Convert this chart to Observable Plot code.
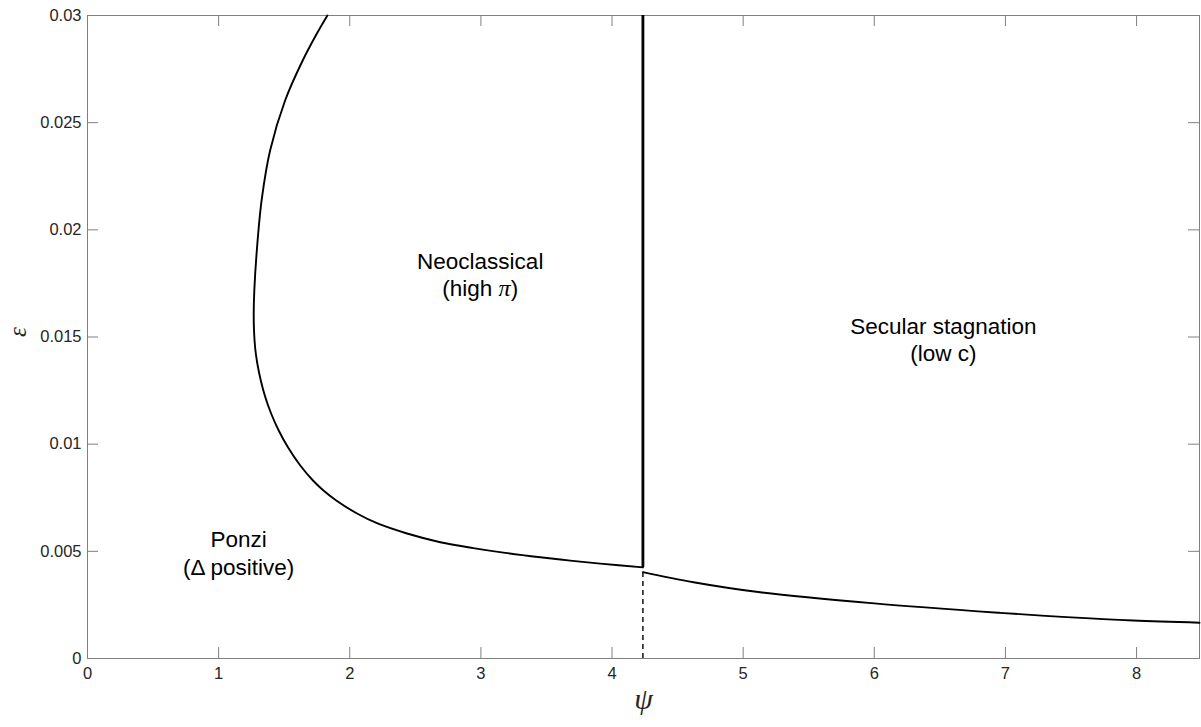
<!DOCTYPE html>
<html><head><meta charset="utf-8">
<script src="https://cdn.jsdelivr.net/npm/d3@7"></script>
<script src="https://cdn.jsdelivr.net/npm/@observablehq/plot@0.6"></script>
<style>
body{margin:0;background:#fff}
svg{font-family:"Liberation Sans",Arial,sans-serif}
</style>
</head><body><div id="chart"></div><script>
// Left boundary (Ponzi / Neoclassical)
const leftPsi = [1.8293,1.7409,1.6410,1.5069,1.3925,1.3277,1.2912,1.2721,1.2675,1.2698,1.2782,1.2950,1.3216,1.3544,1.4002,1.4581,1.5297,1.6227,1.7195,1.7995,1.8971,2.0556,2.2119,2.4367,2.6905,2.9421,3.1860,3.4527,3.6814,3.9101,4.2355];
const leftEps = [0.030000,0.029067,0.027900,0.026034,0.023701,0.021369,0.019036,0.017169,0.016096,0.015303,0.014510,0.013764,0.012970,0.012224,0.011431,0.010638,0.009844,0.009005,0.008305,0.007838,0.007372,0.006765,0.006299,0.005832,0.005426,0.005151,0.004927,0.004722,0.004568,0.004428,0.004250];
// Right boundary (Ponzi / Secular stagnation)
const rightPsi = [4.2355,4.621,5.130,6.0,6.959,7.467,7.973,8.48];
const rightEps = [0.00403,0.00356,0.00309,0.00257,0.00213,0.00193,0.00177,0.00167];
// Vertical boundary
const boundaryPsi = 4.2355;
const boundaryTop = 0.03;
const boundaryBottom = 0.00425;
const dashTop = 0.00403;

const xTicks = [0,1,2,3,4,5,6,7,8];
const yTicks = [0,0.005,0.01,0.015,0.02,0.025,0.03];
const yTickLabels = ["0","0.005","0.01","0.015","0.02","0.025","0.03"];

const regionLabels = ["Neoclassical\n(high π)", "Ponzi\n(Δ positive)", "Secular stagnation\n(low c)"];
const regionPsi = [2.995, 1.152, 6.527];
const regionEps = [0.01796, 0.00495, 0.01493];

const left = leftPsi.map((x,i)=>({x, y:leftEps[i]}));
const right = rightPsi.map((x,i)=>({x, y:rightEps[i]}));
const regions = regionLabels.map((t,i)=>({t, x:regionPsi[i], y:regionEps[i]}));

const W = 1201, H = 727, mL = 87, mR = 2, mT = 15, mB = 69;
const plotW = W - mL - mR, plotH = H - mT - mB;
const axisGray = "#808080";
const tickLen = 11;

const plot = Plot.plot({
  width: W, height: H,
  marginLeft: mL, marginRight: mR, marginTop: mT, marginBottom: mB,
  x: {domain: [0, 8.48]},
  y: {domain: [0, 0.03]},
  style: {fontFamily: "'Liberation Sans', Arial, sans-serif", fontSize: "16.5px", color: "#262626", background: "#fff"},
  marks: [
    Plot.frame({stroke: axisGray, strokeWidth: 1}),
    // tick labels
    Plot.axisX({ticks: xTicks, anchor: "bottom", tickSize: 0, tickPadding: 9, tickFormat: d => String(d), label: null, fill: "#262626"}),
    Plot.axisY({ticks: yTicks, anchor: "left", tickSize: 0, tickPadding: 6, tickFormat: d => yTickLabels[yTicks.indexOf(d)], label: null, fill: "#262626"}),
    // inward ticks on all four sides
    Plot.ruleX(xTicks, {x: d => d, insetTop: plotH - tickLen, stroke: axisGray, strokeWidth: 1}),
    Plot.ruleX(xTicks, {x: d => d, insetBottom: plotH - tickLen, stroke: axisGray, strokeWidth: 1}),
    Plot.ruleY(yTicks, {y: d => d, insetRight: plotW - tickLen, stroke: axisGray, strokeWidth: 1}),
    Plot.ruleY(yTicks, {y: d => d, insetLeft: plotW - tickLen, stroke: axisGray, strokeWidth: 1}),
    // boundaries
    Plot.line(left, {x: "x", y: "y", curve: "catmull-rom", stroke: "#000", strokeWidth: 1.9}),
    Plot.line(right, {x: "x", y: "y", curve: "catmull-rom", stroke: "#000", strokeWidth: 1.9}),
    Plot.ruleX([boundaryPsi], {y1: boundaryBottom, y2: boundaryTop, stroke: "#000", strokeWidth: 2.8}),
    Plot.ruleX([boundaryPsi], {y1: 0, y2: dashTop, stroke: "#000", strokeWidth: 1.4, strokeDasharray: "5,4"}),
    // region labels
    Plot.text(regions, {x: "x", y: "y", text: "t", fontSize: 22.5, lineHeight: 1.22, fill: "#000", textAnchor: "middle"}),
    // axis titles
    Plot.text(["ψ"], {frameAnchor: "bottom", dy: 50, fontSize: 30, fontStyle: "italic", fontFamily: "'Liberation Serif', 'DejaVu Serif', serif", fill: "#262626"}),
    Plot.text(["ε"], {frameAnchor: "left", dx: -70, rotate: -90, fontSize: 25, fontStyle: "italic", fontFamily: "'Liberation Serif', 'DejaVu Serif', serif", fill: "#262626"})
  ]
});

// render π in italic serif like the reference's math text
d3.select(plot).selectAll("tspan, text").each(function(){
  const el = d3.select(this);
  if (this.childElementCount === 0 && this.textContent.includes("π")) {
    const parts = this.textContent.split("π");
    el.text(null);
    el.append("tspan").text(parts[0]);
    el.append("tspan").attr("font-family","'Liberation Serif', serif").attr("font-style","italic").attr("font-size", 24).text("π");
    el.append("tspan").text(parts[1]);
  }
});

document.getElementById("chart").append(plot);
</script></body></html>
